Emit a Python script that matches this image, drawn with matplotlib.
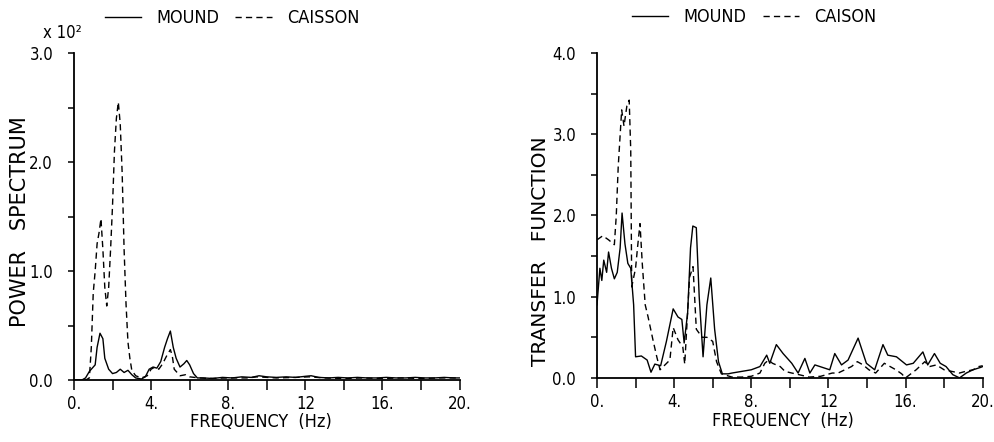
import matplotlib
matplotlib.use("Agg")
import matplotlib.pyplot as plt
import numpy as np

plt.rcParams['font.family'] = ['DejaVu Sans']
plt.rcParams['font.stretch'] = 'condensed'

# ---- power spectrum (x 10^2), left panel ----
ps_mound_f = [0.0, 0.4, 0.6, 0.8, 1.0, 1.1, 1.2, 1.35, 1.5, 1.6, 1.8, 2.0, 2.2, 2.4,
              2.6, 2.8, 3.0, 3.2, 3.5, 3.7, 3.9, 4.1, 4.3, 4.5, 4.7, 4.85, 5.0, 5.15,
              5.3, 5.5, 5.7, 5.85, 6.0, 6.2, 6.4, 6.7, 7.2, 7.7, 8.2, 8.7, 9.2, 9.6,
              10.0, 10.5, 11.0, 11.5, 12.0, 12.3, 12.7, 13.2, 13.7, 14.2, 14.7, 15.2,
              15.7, 16.2, 16.7, 17.2, 17.7, 18.2, 18.7, 19.2, 19.7, 20.0]
ps_mound = [0.0, 0.0, 0.02, 0.08, 0.12, 0.14, 0.30, 0.43, 0.38, 0.20, 0.10, 0.06, 0.07,
            0.10, 0.07, 0.09, 0.05, 0.02, 0.01, 0.03, 0.10, 0.12, 0.11, 0.17, 0.30, 0.38,
            0.45, 0.30, 0.20, 0.12, 0.15, 0.18, 0.14, 0.06, 0.02, 0.02, 0.015, 0.025,
            0.02, 0.03, 0.025, 0.04, 0.03, 0.025, 0.03, 0.025, 0.035, 0.04, 0.025, 0.02,
            0.025, 0.02, 0.025, 0.02, 0.02, 0.025, 0.02, 0.02, 0.025, 0.02, 0.02, 0.025,
            0.02, 0.02]

ps_caisson_f = [0.0, 0.6, 0.8, 0.9, 1.0, 1.1, 1.2, 1.3, 1.4, 1.5, 1.6, 1.7, 1.8, 1.9,
                2.0, 2.1, 2.2, 2.3, 2.4, 2.5, 2.6, 2.7, 2.8, 2.9, 3.0, 3.2, 3.5, 3.8,
                4.0, 4.2, 4.4, 4.6, 4.8, 5.0, 5.1, 5.2, 5.5, 5.8, 6.0, 6.5, 7.0, 8.0,
                9.0, 9.5, 10.5, 11.5, 12.2, 13.0, 14.0, 15.0, 16.0, 17.0, 18.0, 19.0,
                20.0]
ps_caisson = [0.0, 0.0, 0.02, 0.30, 0.80, 1.00, 1.25, 1.35, 1.48, 1.20, 0.85, 0.68,
              0.85, 1.20, 1.60, 2.10, 2.40, 2.55, 2.35, 1.90, 1.20, 0.70, 0.35, 0.20,
              0.09, 0.04, 0.02, 0.04, 0.10, 0.12, 0.10, 0.15, 0.22, 0.28, 0.22, 0.10,
              0.04, 0.05, 0.03, 0.02, 0.015, 0.02, 0.02, 0.03, 0.02, 0.025, 0.03, 0.02,
              0.015, 0.02, 0.015, 0.02, 0.015, 0.02, 0.02]

# ---- transfer function, right panel ----
tf_mound_f = [0.0, 0.15, 0.25, 0.35, 0.5, 0.6, 0.75, 0.9, 1.05, 1.2, 1.3, 1.45, 1.6,
              1.75, 1.9, 2.0, 2.3, 2.6, 2.8, 3.0, 3.3, 3.6, 3.95, 4.2, 4.4, 4.52, 4.7,
              4.85, 4.97, 5.15, 5.3, 5.5, 5.7, 5.9, 6.1, 6.3, 6.5, 6.8, 7.0, 7.5, 8.0,
              8.45, 8.8, 8.96, 9.3, 9.65, 10.1, 10.43, 10.78, 11.04, 11.3, 12.07, 12.33,
              12.68, 13.02, 13.54, 13.97, 14.4, 14.83, 15.08, 15.53, 16.05, 16.4, 16.9,
              17.15, 17.5, 17.8, 18.1, 18.45, 18.8, 19.15, 19.5, 19.9, 20.0]
tf_mound = [0.90, 1.35, 1.20, 1.45, 1.30, 1.55, 1.35, 1.22, 1.30, 1.60, 2.03, 1.65,
            1.41, 1.35, 0.90, 0.26, 0.27, 0.22, 0.07, 0.17, 0.15, 0.45, 0.85, 0.75,
            0.72, 0.43, 0.80, 1.60, 1.87, 1.85, 1.00, 0.26, 0.90, 1.23, 0.60, 0.20,
            0.05, 0.05, 0.06, 0.08, 0.10, 0.14, 0.28, 0.18, 0.41, 0.30, 0.18, 0.06,
            0.24, 0.06, 0.16, 0.10, 0.30, 0.16, 0.22, 0.49, 0.18, 0.10, 0.41, 0.28,
            0.26, 0.16, 0.18, 0.32, 0.16, 0.30, 0.18, 0.14, 0.04, 0.0, 0.06, 0.10,
            0.13, 0.14]

tf_caisson_f = [0.0, 0.3, 0.6, 0.9, 1.0, 1.1, 1.28, 1.4, 1.55, 1.67, 1.75, 1.8, 2.0,
                2.1, 2.23, 2.35, 2.5, 2.65, 2.9, 3.1, 3.27, 3.78, 3.95, 4.2, 4.45, 4.55,
                4.8, 4.98, 5.15, 5.45, 5.7, 6.0, 6.2, 6.45, 7.0, 7.5, 8.0, 8.45, 8.7,
                8.9, 9.1, 9.5, 9.75, 10.1, 10.3, 11.0, 11.6, 12.2, 12.5, 12.85, 13.2,
                13.5, 13.8, 14.1, 14.45, 14.9, 15.2, 15.5, 15.8, 16.0, 16.55, 17.0, 17.25,
                17.6, 18.0, 18.4, 18.8, 19.1, 19.5, 19.8, 20.0]
tf_caisson = [1.70, 1.75, 1.70, 1.64, 2.00, 2.60, 3.30, 3.10, 3.35, 3.42, 2.80, 1.12,
              1.35, 1.60, 1.90, 1.40, 0.90, 0.75, 0.47, 0.26, 0.10, 0.22, 0.62, 0.47,
              0.38, 0.17, 1.24, 1.37, 0.60, 0.50, 0.50, 0.45, 0.20, 0.05, 0.01, 0.01,
              0.02, 0.06, 0.18, 0.22, 0.18, 0.14, 0.08, 0.06, 0.05, 0.01, 0.02, 0.06,
              0.06, 0.10, 0.14, 0.20, 0.16, 0.10, 0.06, 0.18, 0.14, 0.10, 0.05, 0.0,
              0.10, 0.20, 0.14, 0.16, 0.10, 0.08, 0.06, 0.08, 0.10, 0.14, 0.15]

x_ticks = np.arange(0, 21, 2)
x_labels = ['0.', '', '4.', '', '8.', '', '12', '', '16.', '', '20.']

DASH = (0, (4.5, 3))
YLABEL_FONT = dict(fontstretch='normal', rotation=90, ha='center', va='center')


def style_axes(ax, ymax, ylabels, xlabel_pos):
    ax.set_xlim(0, 20)
    ax.set_ylim(0, ymax)
    for side in ('top', 'right'):
        ax.spines[side].set_visible(False)
    for side in ('left', 'bottom'):
        ax.spines[side].set_linewidth(1.3)
    ax.set_xticks(x_ticks)
    ax.set_xticklabels(x_labels)
    ax.set_yticks(np.arange(0, ymax + 0.01, 0.5))
    ax.set_yticklabels(ylabels)
    ax.tick_params(axis='x', direction='out', length=7, width=1.1, pad=4,
                   labelsize=12)
    ax.tick_params(axis='y', direction='out', length=4, width=1.1, pad=11,
                   labelsize=12)
    ax.set_xlabel('FREQUENCY  (Hz)', fontsize=13)
    ax.xaxis.set_label_coords(*xlabel_pos)


def add_legend(ax, center):
    fig.legend(handles=ax.get_lines(), loc='center', bbox_to_anchor=center,
               ncol=2, frameon=False, fontsize=13, handlelength=2.0,
               handletextpad=0.85, columnspacing=0.9)


fig = plt.figure(figsize=(9.94, 4.42), dpi=100)

# left: power spectrum
ax1 = fig.add_axes([0.0744, 0.140, 0.388, 0.740])
ax1.plot(ps_mound_f, ps_mound, color='black', lw=1.0, label='MOUND')
ax1.plot(ps_caisson_f, ps_caisson, color='black', lw=1.0, ls=DASH, label='CAISSON')
style_axes(ax1, 3.0, ['0.0', '', '1.0', '', '2.0', '', '3.0'], (0.484, -0.100))
fig.text(20 / 994, 1 - 222 / 442, 'POWER   SPECTRUM', fontsize=15, **YLABEL_FONT)
fig.text(62 / 994, 1 - 33 / 442, 'x 10²', fontsize=12, ha='center', va='center')
add_legend(ax1, (232 / 994, 1 - 18 / 442))

# right: transfer function
ax2 = fig.add_axes([0.6006, 0.145, 0.388, 0.735])
ax2.plot(tf_mound_f, tf_mound, color='black', lw=1.0, label='MOUND')
ax2.plot(tf_caisson_f, tf_caisson, color='black', lw=1.0, ls=DASH, label='CAISON')
style_axes(ax2, 4.0, ['0.0', '', '1.0', '', '2.0', '', '3.0', '', '4.0'],
           (0.482, -0.106))
fig.text(541 / 994, 1 - 251 / 442, 'TRANSFER   FUNCTION', fontsize=14.5, **YLABEL_FONT)
add_legend(ax2, (754 / 994, 1 - 17 / 442))

fig.savefig('out.png', dpi=100)
